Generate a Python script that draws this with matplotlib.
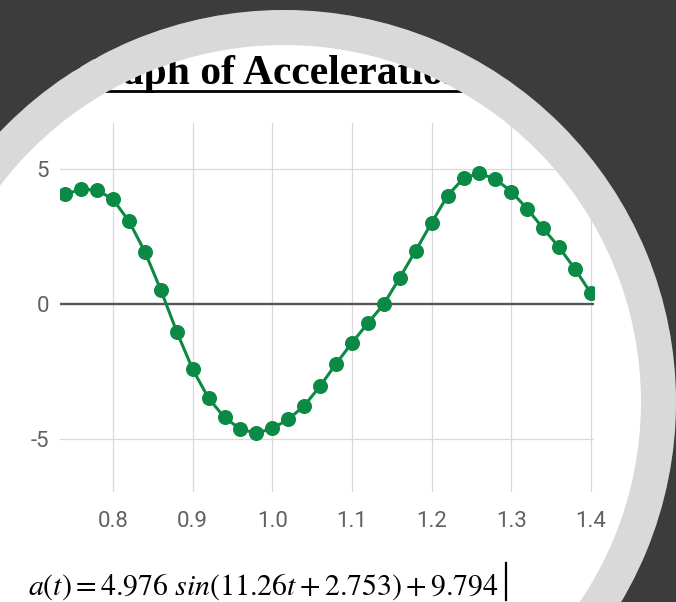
import matplotlib
matplotlib.use("Agg")
import matplotlib.pyplot as plt
from matplotlib.patches import Wedge
from matplotlib.lines import Line2D

plt.rcParams['mathtext.fontset'] = 'stix'

# data (time in s, acceleration)
t = [0.74, 0.76, 0.78, 0.80, 0.82, 0.84, 0.86, 0.88, 0.90, 0.92, 0.94, 0.96,
     0.98, 1.00, 1.02, 1.04, 1.06, 1.08, 1.10, 1.12, 1.14, 1.16, 1.18, 1.20,
     1.22, 1.24, 1.26, 1.28, 1.30, 1.32, 1.34, 1.36, 1.38, 1.40]
acc = [4.05, 4.23, 4.21, 3.86, 3.06, 1.93, 0.52, -1.02, -2.41, -3.48, -4.19, -4.62,
       -4.77, -4.59, -4.26, -3.76, -3.03, -2.21, -1.43, -0.71, 0.00, 0.97, 1.97, 3.00,
       4.00, 4.64, 4.82, 4.61, 4.15, 3.51, 2.79, 2.09, 1.29, 0.39]
xticks = [0.8, 0.9, 1.0, 1.1, 1.2, 1.3, 1.4]
xtick_labels = ["0.8", "0.9", "1.0", "1.1", "1.2", "1.3", "1.4"]
yticks = [-5, 0, 5]
ytick_labels = ["-5", "0", "5"]
title = "Graph of Acceleration"
equation = r"$a(t) = 4.976\ sin(11.26t + 2.753) + 9.794$"

W, H = 676, 602
fig = plt.figure(figsize=(W / 100, H / 100), dpi=100)
fig.patch.set_facecolor("white")

green = "#0a8a45"

# chart
ax = fig.add_axes([60 / W, 1 - 492 / H, 534 / W, 369 / H])
ax.set_facecolor("none")
ax.plot(t, acc, color=green, lw=2.2, marker="o", ms=9.8, zorder=3)
ax.axhline(0, color="#555555", lw=1.7, zorder=2)
ax.set_xlim(0.7335, 1.4038)
ax.set_ylim(-6.94, 6.68)
ax.set_xticks(xticks)
ax.set_xticklabels(xtick_labels)
ax.set_yticks(yticks)
ax.set_yticklabels(ytick_labels)
for v in xticks:
    ax.axvline(v, color="#d9d9d9", lw=0.9, zorder=1)
for v in [-5, 5]:
    ax.axhline(v, color="#d9d9d9", lw=0.9, zorder=1)
for s in ax.spines.values():
    s.set_visible(False)
ax.tick_params(length=0, labelsize=16, labelcolor="#616161")
ax.tick_params(axis="x", pad=14)
ax.tick_params(axis="y", pad=8)
for lab in ax.get_xticklabels() + ax.get_yticklabels():
    lab.set_fontfamily("Roboto")

# overlay in pixel coords: title, equation, ring
ov = fig.add_axes([0, 0, 1, 1], zorder=5)
ov.set_xlim(0, W)
ov.set_ylim(H, 0)
ov.axis("off")
ov.patch.set_visible(False)

ov.text(72, 84, title, fontsize=30, fontweight="bold", family="Liberation Serif",
        color="black", ha="left", va="baseline", zorder=2)
ov.add_line(Line2D([60, 480], [91, 91], color="black", lw=2, zorder=2))

ov.text(28, 595, equation, fontsize=21.5, color="black", ha="left", va="baseline", zorder=2)
ov.add_line(Line2D([506, 506], [563, 600], color="black", lw=1.6, zorder=2))

cx, cy = 284, 402
ov.add_patch(Wedge((cx, cy), 392, 0, 360, width=392 - 357, facecolor="#d9d9d9",
                   edgecolor="none", zorder=10))
ov.add_patch(Wedge((cx, cy), 1500, 0, 360, width=1500 - 392, facecolor="#3c3c3c",
                   edgecolor="none", zorder=10))

fig.savefig("out.png", dpi=100)
